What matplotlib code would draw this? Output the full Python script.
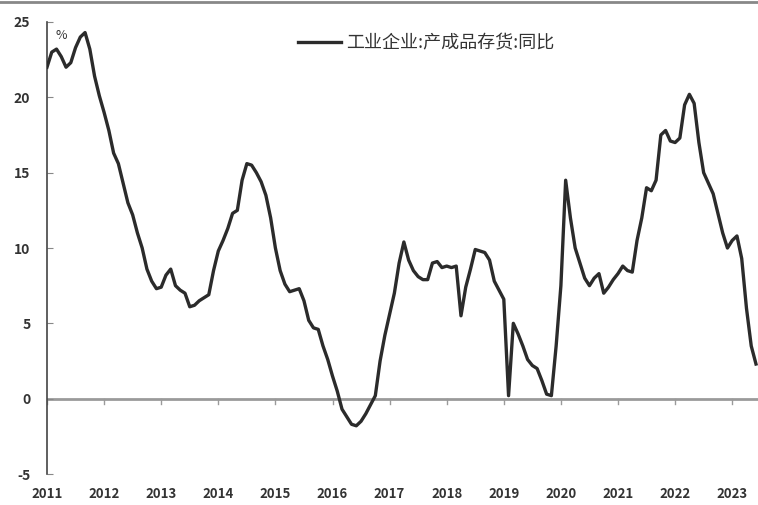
import matplotlib
matplotlib.use("Agg")
import matplotlib.pyplot as plt
import numpy as np

plt.rcParams['font.family'] = ['Noto Sans CJK SC', 'DejaVu Sans']

start_year = 2011
years = list(range(2011, 2024))
year_labels = [str(y) for y in years]
series_name = "工业企业:产成品存货:同比"

# monthly values from Jan 2011
values = [
    22.0, 23.0, 23.2, 22.7, 22.0, 22.3, 23.3, 24.0, 24.3, 23.2, 21.4, 20.1,
    19.0, 17.8, 16.3, 15.6, 14.3, 13.0, 12.2, 11.0, 10.0, 8.6, 7.8, 7.3,
    7.4, 8.2, 8.6, 7.5, 7.2, 7.0, 6.1, 6.2, 6.5, 6.7, 6.9, 8.5,
    9.8, 10.5, 11.3, 12.3, 12.5, 14.5, 15.6, 15.5, 15.0, 14.4, 13.5, 12.0,
    10.0, 8.5, 7.6, 7.1, 7.2, 7.3, 6.5, 5.2, 4.7, 4.6, 3.5, 2.6,
    1.5, 0.5, -0.7, -1.2, -1.7, -1.8, -1.5, -1.0, -0.4, 0.2, 2.5, 4.2,
    5.6, 7.0, 9.0, 10.4, 9.2, 8.5, 8.1, 7.9, 7.9, 9.0, 9.1, 8.7,
    8.8, 8.7, 8.8, 5.5, 7.4, 8.6, 9.9, 9.8, 9.7, 9.2, 7.8, 7.2,
    6.6, 0.2, 5.0, 4.3, 3.5, 2.6, 2.2, 2.0, 1.2, 0.3, 0.2, 3.5,
    7.5, 14.5, 12.0, 10.0, 9.0, 8.0, 7.5, 8.0, 8.3, 7.0, 7.4, 7.9,
    8.3, 8.8, 8.5, 8.4, 10.5, 12.0, 14.0, 13.8, 14.5, 17.5, 17.8, 17.1,
    17.0, 17.3, 19.5, 20.2, 19.6, 17.0, 15.0, 14.3, 13.6, 12.3, 11.0, 10.0,
    10.5, 10.8, 9.3, 6.0, 3.5, 2.3,
]

x = start_year + np.arange(len(values)) / 12.0

fig = plt.figure(figsize=(7.58, 5.05), dpi=100)
ax = fig.add_axes([47/758, 1 - 474/505, 1 - 47/758, (474 - 22)/505])

text_color = "#333333"
ax.axhline(0, color="#9a9a9a", lw=2.0, zorder=1)
for yr in years:
    ax.plot([yr, yr], [0, -0.35], color="#9a9a9a", lw=1.0, zorder=1)

ax.plot(x, values, color="#2b2b2b", lw=2.4, zorder=3, solid_joinstyle="round",
        label=series_name)

ax.set_xlim(2011.0, 2011 + (758 - 47) / 57.1)
ax.set_ylim(-5, 25)
ax.set_yticks([-5, 0, 5, 10, 15, 20, 25])
ax.set_yticklabels(["-5", "0", "5", "10", "15", "20", "25"])
ax.set_xticks(years)
ax.set_xticklabels(year_labels)

for s in ["top", "right", "bottom"]:
    ax.spines[s].set_visible(False)
ax.spines["left"].set_color("#444444")
ax.spines["left"].set_linewidth(1.2)

ax.tick_params(axis="y", direction="in", length=4, color="#888888", pad=12,
               labelsize=10, labelcolor=text_color)
ax.tick_params(axis="x", length=0, pad=9, labelsize=9.5, labelcolor=text_color)
for lbl in ax.get_xticklabels():
    lbl.set_fontweight("bold")
for lbl in ax.get_yticklabels():
    lbl.set_fontweight("bold")

ax.text(0.012, 0.985, "%", transform=ax.transAxes, fontsize=9,
        color=text_color, ha="left", va="top")

leg = ax.legend(loc="upper left", bbox_to_anchor=(238/711, 1.0), frameon=False,
                fontsize=13, handlelength=2.4, handletextpad=0.3,
                borderaxespad=0.3)
for t in leg.get_texts():
    t.set_color(text_color)

fig.add_artist(plt.Line2D([0, 1], [0.997, 0.997], transform=fig.transFigure,
                          color="#888888", lw=2))

fig.savefig("out.png", dpi=100)
